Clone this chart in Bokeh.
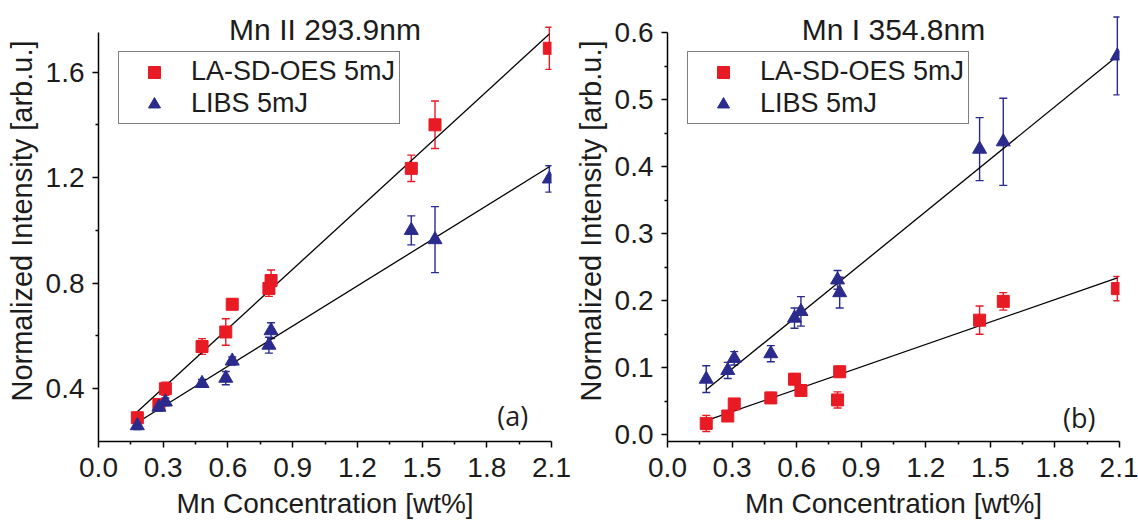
from bokeh.plotting import figure
from bokeh.layouts import row
from bokeh.models import (Range1d, FixedTicker, PrintfTickFormatter, Whisker, TeeHead,
                          ColumnDataSource, Legend, LegendItem, Label)
from bokeh.embed import file_html
from bokeh.resources import INLINE

# Mn concentration of the reference samples [wt%]
conc = [0.18, 0.28, 0.31, 0.48, 0.59, 0.62, 0.79, 0.80, 1.45, 1.56, 2.09]

# (a) Mn II 293.9 nm
mn2_sdoes = [0.29, 0.34, 0.40, 0.56, 0.615, 0.72, 0.78, 0.81, 1.235, 1.40, 1.69]
mn2_sdoes_err = [0.02, 0.02, 0.025, 0.03, 0.05, 0.02, 0.03, 0.04, 0.05, 0.09, 0.08]
mn2_libs = [0.26, 0.33, 0.35, 0.42, 0.44, 0.505, 0.565, 0.62, 1.00, 0.965, 1.195]
mn2_libs_err = [0.015, 0.015, 0.015, 0.015, 0.025, 0.015, 0.03, 0.03, 0.055, 0.125, 0.05]

# (b) Mn I 354.8 nm
mn1_sdoes = [0.017, 0.028, 0.046, 0.055, 0.083, 0.066, 0.052, 0.094, 0.171, 0.199, 0.218]
mn1_sdoes_err = [0.012, 0.008, 0.008, 0.008, 0.008, 0.008, 0.012, 0.008, 0.021, 0.013, 0.018]
mn1_libs = [0.083, 0.096, 0.114, 0.121, 0.174, 0.184, 0.231, 0.212, 0.426, 0.437, 0.565]
mn1_libs_err = [0.02, 0.012, 0.01, 0.012, 0.015, 0.022, 0.014, 0.023, 0.047, 0.065, 0.058]

# linear calibration fits (end points)
fit_x = [0.18, 2.09]
mn2_fit_sdoes = [0.313, 1.744]
mn2_fit_libs = [0.272, 1.241]
mn1_fit_sdoes = [0.021, 0.234]
mn1_fit_libs = [0.067, 0.565]

x_ticks = [0.0, 0.3, 0.6, 0.9, 1.2, 1.5, 1.8, 2.1]
x_minor = [0.15, 0.45, 0.75, 1.05, 1.35, 1.65, 1.95]
a_ticks = [0.4, 0.8, 1.2, 1.6]
a_minor = [0.6, 1.0, 1.4]
b_ticks = [0.0, 0.1, 0.2, 0.3, 0.4, 0.5, 0.6]
b_minor = [0.05, 0.15, 0.25, 0.35, 0.45, 0.55]

RED = "#e81a24"
BLUE = "#2b2b8d"
TXT = "#1c1c1c"
FONT = "Liberation Sans"


def errsrc(x, y, e):
    return ColumnDataSource(dict(
        x=x, y=y,
        lo=[v - d for v, d in zip(y, e)],
        hi=[v + d for v, d in zip(y, e)],
    ))


def add_series(p, src, color, marker, size):
    head = dict(size=8, line_color=color, line_width=1.4)
    w = Whisker(base="x", upper="hi", lower="lo", source=src, dimension="height",
                line_color=color, line_width=1.4,
                upper_head=TeeHead(**head), lower_head=TeeHead(**head))
    p.add_layout(w)
    return p.scatter("x", "y", source=src, marker=marker, size=size,
                     fill_color=color, line_color=color)


def panel(width, left, right, yr, ybounds, yt, ym, title, title_y, tag, tag_xy,
          red, red_e, blue, blue_e, fit_red, fit_blue):
    # the frame reaches the top of the canvas so the title can sit inside it;
    # the y axis itself is limited to its data bounds
    p = figure(width=width, height=529, x_range=Range1d(0, 2.1), y_range=Range1d(*yr),
               output_backend="svg", toolbar_location=None,
               min_border_left=left, min_border_right=right,
               min_border_top=0, min_border_bottom=88)
    p.outline_line_color = None
    p.grid.visible = False
    p.background_fill_color = "white"
    p.border_fill_color = "white"

    p.xaxis.ticker = FixedTicker(ticks=x_ticks, minor_ticks=x_minor)
    p.yaxis.ticker = FixedTicker(ticks=yt, minor_ticks=ym)
    p.yaxis.bounds = ybounds
    p.xaxis.formatter = PrintfTickFormatter(format="%.1f")
    p.yaxis.formatter = PrintfTickFormatter(format="%.1f")
    for ax in (p.xaxis[0], p.yaxis[0]):
        ax.axis_line_width = 1.5
        ax.axis_line_color = "black"
        ax.major_tick_line_width = 1.5
        ax.minor_tick_line_width = 1.5
        ax.major_tick_line_color = "black"
        ax.minor_tick_line_color = "black"
        ax.major_tick_in = 0
        ax.major_tick_out = 6
        ax.minor_tick_in = 0
        ax.minor_tick_out = 3
        ax.major_label_text_font = FONT
        ax.major_label_text_font_size = "28px"
        ax.major_label_text_color = TXT
        ax.axis_label_text_font = FONT
        ax.axis_label_text_font_style = "normal"
        ax.axis_label_text_color = TXT
    p.xaxis.major_label_standoff = 10
    p.yaxis.major_label_standoff = 8
    p.xaxis.axis_label = "Mn Concentration [wt%]"
    p.xaxis.axis_label_text_font_size = "28px"
    p.xaxis.axis_label_standoff = 8
    p.yaxis.axis_label = "Normalized Intensity [arb.u.]"
    p.yaxis.axis_label_text_font_size = "29px"
    p.yaxis.axis_label_standoff = 5

    p.line(fit_x, fit_red, line_color="black", line_width=1.3)
    p.line(fit_x, fit_blue, line_color="black", line_width=1.3)

    r_red = add_series(p, errsrc(conc, red, red_e), RED, "square", 12)
    r_blue = add_series(p, errsrc(conc, blue, blue_e), BLUE, "triangle", 14)

    legend = Legend(items=[LegendItem(label="LA-SD-OES 5mJ", renderers=[r_red]),
                           LegendItem(label="LIBS 5mJ", renderers=[r_blue])],
                    location=(20, 317), padding=4, spacing=1, margin=0,
                    glyph_width=62, glyph_height=30, label_standoff=6,
                    label_text_font=FONT, label_text_font_size="27px",
                    label_text_color=TXT,
                    border_line_color="black", border_line_width=1.5,
                    background_fill_color="white", background_fill_alpha=1)
    p.add_layout(legend)

    p.add_layout(Label(x=1.05, y=title_y, text=title, text_align="center",
                       text_baseline="alphabetic", text_font=FONT,
                       text_font_size="30px", text_color=TXT))
    p.add_layout(Label(x=tag_xy[0], y=tag_xy[1], text=tag, text_align="center",
                       text_baseline="middle", text_font="Open Sans",
                       text_font_size="27px", text_color=TXT))
    return p


pa = panel(571, 98, 20, (0.2, 1.8711), (0.2, 1.75), a_ticks, a_minor,
           "Mn II 293.9nm", 1.763, "(a)", (1.92, 0.299),
           mn2_sdoes, mn2_sdoes_err, mn2_libs, mn2_libs_err,
           mn2_fit_sdoes, mn2_fit_libs)
pb = panel(567, 95, 19, (-0.01, 0.6477), (-0.01, 0.6), b_ticks, b_minor,
           "Mn I 354.8nm", 0.605, "(b)", (1.913, 0.026),
           mn1_sdoes, mn1_sdoes_err, mn1_libs, mn1_libs_err,
           mn1_fit_sdoes, mn1_fit_libs)

layout = row(pa, pb)
open("out.html", "w").write(file_html(layout, INLINE))
